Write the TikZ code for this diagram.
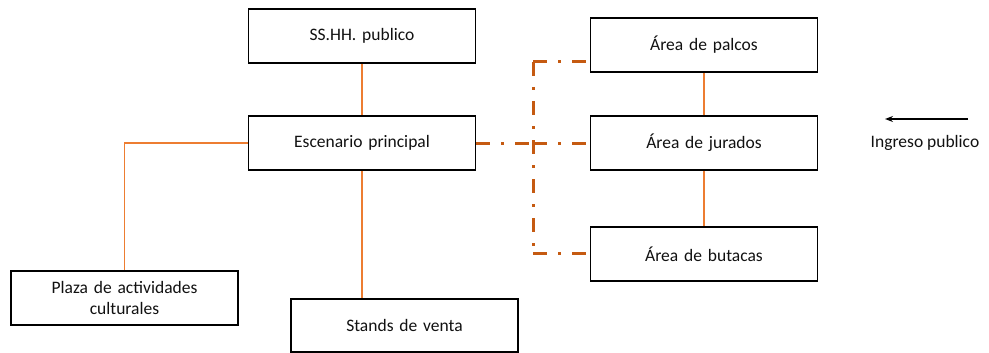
\documentclass[tikz,border=0pt]{standalone}
\usepackage{fontspec}
\setmainfont{Carlito}
\usetikzlibrary{arrows.meta,positioning,calc}
\definecolor{Naranja}{HTML}{ED7D31}
\definecolor{Ocre}{HTML}{C55A11}
\definecolor{Tinta}{HTML}{111111}
\tikzset{
  areabox/.style={draw=black, line width=1.8pt, minimum width=227pt,
    minimum height=54pt, text width=200pt, align=center, inner sep=0pt,
    font=\fontsize{17.5}{21}\selectfont, text=Tinta, fill=white},
  linkline/.style={draw=Naranja, line width=1.6pt},
  dashlink/.style={draw=Ocre, line width=3pt,
    dash pattern=on 14pt off 11pt on 3pt off 11pt},
  flowarr/.style={-{Stealth[length=8pt,width=6pt]}, line width=1.4pt},
}
\begin{document}
\begin{tikzpicture}[x=1pt,y=-1pt]
  \useasboundingbox (0,0) rectangle (989,353);

  \node[areabox] (ss) at (362,36) {SS.HH. publico};
  \node[areabox] (esc) at (362,143) {Escenario principal};
  \node[areabox] (plaza) at (124.5,298) {Plaza de actividades\\culturales};
  \node[areabox, minimum height=53pt] (stands) at (404.5,325.5) {Stands de venta};
  \node[areabox] (palcos) at (704,45) {Área de palcos};
  \node[areabox] (jurados) at (704,143) {Área de jurados};
  \node[areabox] (butacas) at (704,254) {Área de butacas};

  % conexiones simples
  \draw[linkline] (ss) -- (esc);
  \draw[linkline] (esc.west) -| (plaza.north);
  \draw[linkline] (esc.south) -- (esc.south |- stands.north);
  \draw[linkline] (palcos) -- (jurados);
  \draw[linkline] (jurados) -- (butacas);

  % conexion punteada hacia las areas
  \coordinate (hub) at (533,143);
  \coordinate (top) at (533,62);
  \coordinate (bot) at (533,253);
  \draw[dashlink] (esc.east) -- (hub);
  \draw[dashlink] (top) -- (bot);
  \draw[dashlink] (top) -- (top -| palcos.west);
  \draw[dashlink] (hub) -- (jurados.west);
  \draw[dashlink] (bot) -- (bot -| butacas.west);

  % ingreso
  \coordinate (ingA) at (968,119);
  \coordinate (ingB) at (885,119);
  \draw[flowarr] (ingA) -- (ingB);
  \node[font=\fontsize{17.5}{21}\selectfont, text=Tinta] (ingreso) at (925,143) {Ingreso publico};
\end{tikzpicture}
\end{document}
